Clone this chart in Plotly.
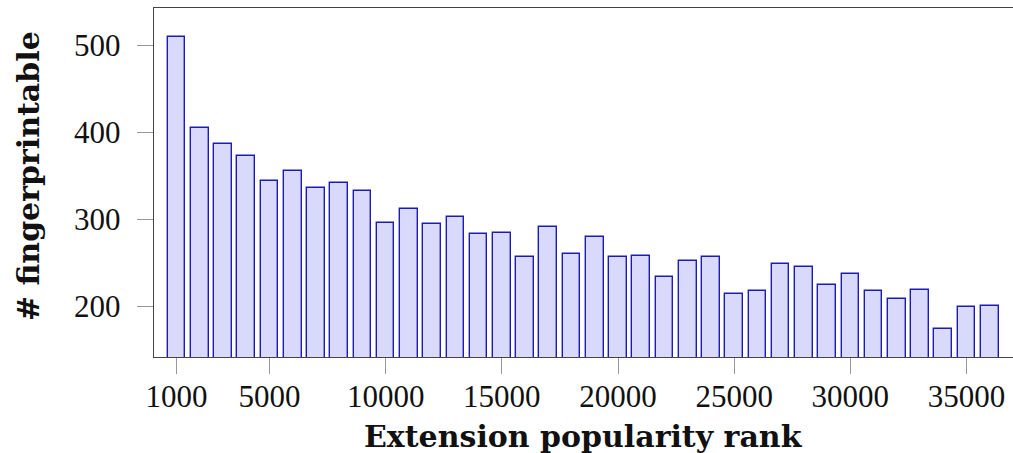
import plotly.graph_objects as go

# Data
ranks = [1000, 2000, 3000, 4000, 5000, 6000, 7000, 8000, 9000, 10000,
         11000, 12000, 13000, 14000, 15000, 16000, 17000, 18000, 19000, 20000,
         21000, 22000, 23000, 24000, 25000, 26000, 27000, 28000, 29000, 30000,
         31000, 32000, 33000, 34000, 35000, 36000]
fingerprintable = [510, 405, 386, 373, 344, 356, 336, 342, 333, 296,
                   312, 295, 302, 283, 284, 257, 291, 260, 279, 257,
                   258, 233, 252, 256, 214, 217, 249, 245, 224, 237,
                   217, 208, 219, 174, 199, 200]
x_ticks = [1000, 5000, 10000, 15000, 20000, 25000, 30000, 35000]
y_ticks = [200, 300, 400, 500]

x_title = "Extension popularity rank"
y_title = "# fingerprintable"

fig = go.Figure()
fig.add_trace(go.Bar(
    x=ranks,
    y=fingerprintable,
    width=760,
    marker=dict(color="rgb(217,217,252)",
                line=dict(color="rgb(28,28,180)", width=1.4)),
))

tick_font = dict(family="Liberation Serif", size=31, color="#111")
title_font = dict(family="DejaVu Serif", size=30, color="#111")

fig.update_layout(
    width=1013, height=453,
    margin=dict(l=153.5, r=0, t=7.5, b=95.5),
    paper_bgcolor="white", plot_bgcolor="white",
    showlegend=False,
    bargap=0,
    xaxis=dict(
        range=[30, 37000],
        tickmode="array", tickvals=x_ticks,
        ticktext=[str(v) for v in x_ticks],
        ticks="outside", ticklen=16, tickcolor="#999", tickwidth=1,
        showline=True, linecolor="#444", linewidth=1.4, mirror=True,
        showgrid=False, zeroline=False,
        tickfont=tick_font, ticklabelstandoff=-4,
    ),
    yaxis=dict(
        range=[141.5, 543],
        tickmode="array", tickvals=y_ticks,
        ticktext=[str(v) for v in y_ticks],
        ticks="outside", ticklen=16, tickcolor="#999", tickwidth=1,
        showline=True, linecolor="#444", linewidth=1.4, mirror=False,
        showgrid=False, zeroline=False,
        tickfont=tick_font, ticklabelstandoff=10,
    ),
    annotations=[
        dict(text="<b>%s</b>" % x_title, xref="paper", yref="paper",
             x=0.5, y=0, yshift=-79, xanchor="center", yanchor="middle",
             showarrow=False, font=title_font),
        dict(text="<b>%s</b>" % y_title, xref="paper", yref="paper",
             x=0, xshift=-125.5, y=0.517, xanchor="center", yanchor="middle",
             textangle=-90, showarrow=False, font=title_font),
    ],
)

fig.write_html("out.html",
               config={"displayModeBar": False},
               post_script="document.body.style.margin='0';")
